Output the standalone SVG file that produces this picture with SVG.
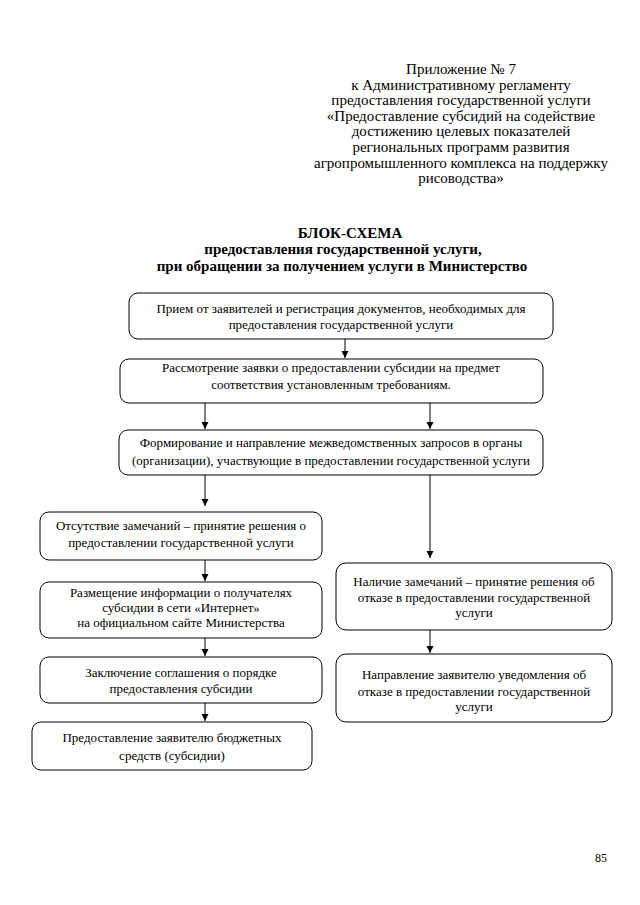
<svg xmlns="http://www.w3.org/2000/svg" width="640" height="905" viewBox="0 0 640 905">
<defs>
<marker id="ah" markerWidth="8" markerHeight="8" refX="7" refY="3.5" orient="auto" markerUnits="userSpaceOnUse">
<path d="M0,0 L7,3.5 L0,7 Z" fill="#000"/>
</marker>
<style>
text{font-family:"Liberation Serif","Times New Roman",serif;fill:#000}
.h{font-size:15px;text-anchor:middle}
.t{font-size:15px;font-weight:bold;text-anchor:middle}
.b{font-size:13px;text-anchor:middle}
.n rect{fill:#fff;stroke:#000;stroke-width:1}
.c line{stroke:#000;stroke-width:1;marker-end:url(#ah)}
</style>
</defs>
<rect width="640" height="905" fill="#fff"/>
<g id="header">
<text class="h" x="461" y="74">Приложение № 7</text>
<text class="h" x="461" y="89.6">к Административному регламенту</text>
<text class="h" x="461" y="105.2">предоставления государственной услуги</text>
<text class="h" x="461" y="120.8">«Предоставление субсидий на содействие</text>
<text class="h" x="461" y="136.4">достижению целевых показателей</text>
<text class="h" x="461" y="152">региональных программ развития</text>
<text class="h" x="461" y="167.6">агропромышленного комплекса на поддержку</text>
<text class="h" x="461" y="183.2">рисоводства»</text>
</g>
<g id="title">
<text class="t" x="350" y="238">БЛОК-СХЕМА</text>
<text class="t" x="343" y="254">предоставления государственной услуги,</text>
<text class="t" x="342" y="271">при обращении за получением услуги в Министерство</text>
</g>
<g class="c" id="connectors">
<line x1="345" y1="339" x2="345" y2="358"/>
<line x1="205" y1="403" x2="205" y2="429"/>
<line x1="430" y1="403" x2="430" y2="429"/>
<line x1="205" y1="475" x2="205" y2="506"/>
<line x1="430" y1="475" x2="430" y2="558"/>
<line x1="205" y1="560" x2="205" y2="581"/>
<line x1="205" y1="638" x2="205" y2="656"/>
<line x1="205" y1="703" x2="205" y2="721"/>
<line x1="430" y1="630" x2="430" y2="653"/>
</g>
<g class="n" id="n1">
<rect x="129" y="293" width="424" height="46" rx="9"/>
<text class="b" x="341" y="313">Прием от заявителей и регистрация документов, необходимых для</text>
<text class="b" x="341" y="329">предоставления государственной услуги</text>
</g>
<g class="n" id="n2">
<rect x="120" y="359" width="423" height="44" rx="9"/>
<text class="b" x="331" y="372">Рассмотрение заявки о предоставлении субсидии на предмет</text>
<text class="b" x="331" y="389">соответствия установленным требованиям.</text>
</g>
<g class="n" id="n3">
<rect x="119" y="430" width="424" height="45" rx="9"/>
<text class="b" x="331" y="447">Формирование и направление межведомственных запросов в органы</text>
<text class="b" x="331" y="465">(организации), участвующие в предоставлении государственной услуги</text>
</g>
<g class="n" id="n4">
<rect x="40" y="512" width="282" height="48" rx="9"/>
<text class="b" x="181" y="530">Отсутствие замечаний – принятие решения о</text>
<text class="b" x="181" y="547">предоставлении государственной услуги</text>
</g>
<g class="n" id="n5">
<rect x="40" y="582" width="282" height="56" rx="9"/>
<text class="b" x="181" y="597">Размещение информации о получателях</text>
<text class="b" x="181" y="612">субсидии в сети «Интернет»</text>
<text class="b" x="181" y="627">на официальном сайте Министерства</text>
</g>
<g class="n" id="n6">
<rect x="40" y="657" width="282" height="46" rx="9"/>
<text class="b" x="181" y="677">Заключение соглашения о порядке</text>
<text class="b" x="181" y="693">предоставления субсидии</text>
</g>
<g class="n" id="n7">
<rect x="32" y="722" width="280" height="48" rx="9"/>
<text class="b" x="172" y="742">Предоставление заявителю бюджетных</text>
<text class="b" x="172" y="760">средств (субсидии)</text>
</g>
<g class="n" id="n8">
<rect x="336" y="563" width="276" height="67" rx="10"/>
<text class="b" x="474" y="586">Наличие замечаний – принятие решения об</text>
<text class="b" x="474" y="602">отказе в предоставлении государственной</text>
<text class="b" x="474" y="617">услуги</text>
</g>
<g class="n" id="n9">
<rect x="336" y="654" width="276" height="68" rx="10"/>
<text class="b" x="474" y="679">Направление заявителю уведомления об</text>
<text class="b" x="474" y="696">отказе в предоставлении государственной</text>
<text class="b" x="474" y="711">услуги</text>
</g>
<text x="601" y="862" style="font-size:12px;text-anchor:middle">85</text>
</svg>
